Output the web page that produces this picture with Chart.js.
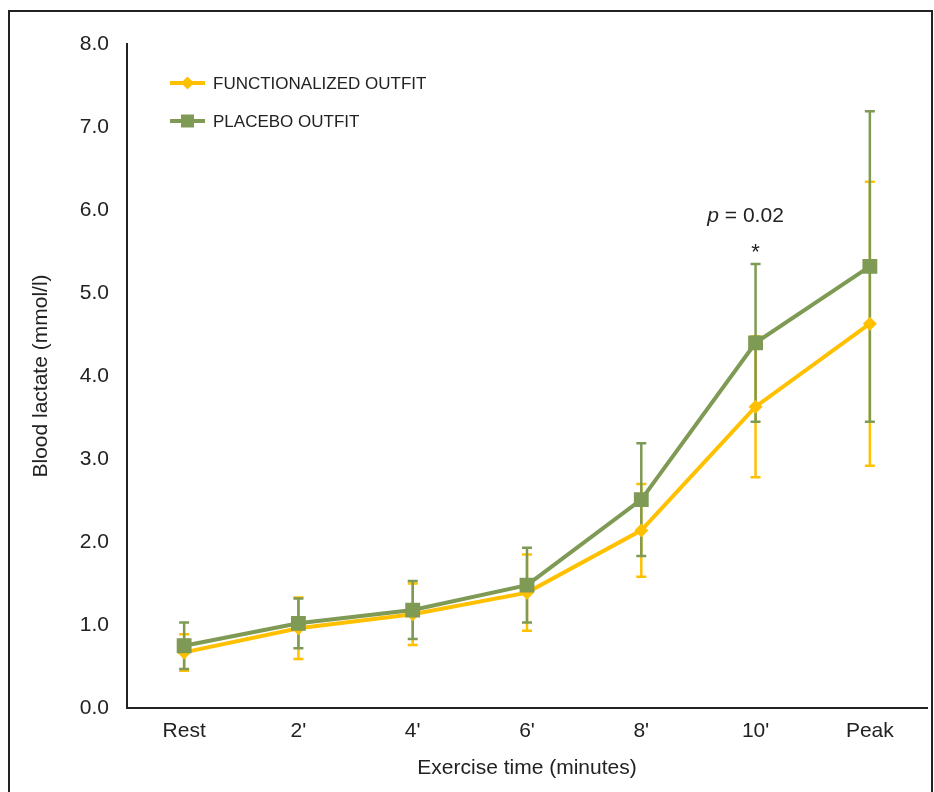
<!DOCTYPE html>
<html lang="en">
<head>
    <meta charset="UTF-8">
    <title>Blood lactate during exercise</title>
    <script src="https://cdn.jsdelivr.net/npm/chart.js@4.4.1/dist/chart.umd.min.js"></script>
    <style>
        html, body { margin: 0; padding: 0; background: #fff; overflow: hidden; }
        #wrap { position: relative; width: 934px; height: 792px; }
        #frame {
            position: absolute; left: 8px; top: 10px; width: 921px; height: 800px;
            border: 2px solid #222; border-bottom: none;
        }
        #box { position: absolute; left: 0; top: 0; width: 934px; height: 792px; }
    </style>
</head>
<body>
    <div id="wrap">
        <div id="frame"></div>
        <div id="box"><canvas id="lactateChart"></canvas></div>
    </div>

    <script>
        const categories = ['Rest', "2'", "4'", "6'", "8'", "10'", 'Peak'];
        const yTickLabels = ['0.0', '1.0', '2.0', '3.0', '4.0', '5.0', '6.0', '7.0', '8.0'];

        const functionalized = [0.67, 0.96, 1.13, 1.39, 2.14, 3.63, 4.63];
        const functionalizedErr = [0.22, 0.37, 0.37, 0.46, 0.56, 0.85, 1.71];
        const placebo = [0.75, 1.02, 1.18, 1.48, 2.51, 4.40, 5.32];
        const placeboErr = [0.28, 0.30, 0.35, 0.45, 0.68, 0.95, 1.87];

        const YELLOW = '#FFC000';
        const GREEN = '#7E9A54';
        const TEXT = '#222';
        const FONT = "'Liberation Sans', Arial, sans-serif";
        const PLOT_RIGHT = 927;

        // stretch the x axis to the right edge of the plot (layout keeps a gap there)
        const stretchX = {
            id: 'stretchX',
            afterLayout(chart) {
                const x = chart.scales.x;
                x.right = PLOT_RIGHT;
                x.width = x.right - x.left;
                chart.chartArea.right = PLOT_RIGHT;
                chart.chartArea.width = PLOT_RIGHT - chart.chartArea.left;
                x.configure();
            }
        };

        // error bars go under the lines
        const errorBars = {
            id: 'errorBars',
            beforeDatasetsDraw(chart) {
                const ctx = chart.ctx;
                const x = chart.scales.x, y = chart.scales.y;
                [[functionalized, functionalizedErr, YELLOW], [placebo, placeboErr, GREEN]].forEach(([vals, errs, col]) => {
                    ctx.save();
                    ctx.strokeStyle = col;
                    ctx.lineWidth = 2.5;
                    vals.forEach((v, i) => {
                        const px = x.getPixelForValue(i);
                        const top = y.getPixelForValue(v + errs[i]);
                        const bot = y.getPixelForValue(v - errs[i]);
                        ctx.beginPath();
                        ctx.moveTo(px, top); ctx.lineTo(px, bot);
                        ctx.moveTo(px - 5, top); ctx.lineTo(px + 5, top);
                        ctx.moveTo(px - 5, bot); ctx.lineTo(px + 5, bot);
                        ctx.stroke();
                    });
                    ctx.restore();
                });
            }
        };

        // legend inside plot + significance note
        const extras = {
            id: 'extras',
            afterDraw(chart) {
                const ctx = chart.ctx;
                const x = chart.scales.x, y = chart.scales.y;
                ctx.save();
                const items = [
                    ['FUNCTIONALIZED OUTFIT', YELLOW, 'diamond', 83],
                    ['PLACEBO OUTFIT', GREEN, 'square', 121]
                ];
                items.forEach(([label, col, shape, ly]) => {
                    ctx.strokeStyle = col;
                    ctx.fillStyle = col;
                    ctx.lineWidth = 4;
                    ctx.beginPath();
                    ctx.moveTo(170, ly); ctx.lineTo(205, ly);
                    ctx.stroke();
                    ctx.beginPath();
                    if (shape === 'diamond') {
                        ctx.moveTo(187.5, ly - 6.5); ctx.lineTo(194, ly);
                        ctx.lineTo(187.5, ly + 6.5); ctx.lineTo(181, ly);
                        ctx.closePath();
                    } else {
                        ctx.rect(181, ly - 6.5, 13, 13);
                    }
                    ctx.fill();
                    ctx.fillStyle = TEXT;
                    ctx.font = '17px ' + FONT;
                    ctx.textBaseline = 'middle';
                    ctx.textAlign = 'left';
                    ctx.fillText(label, 213, ly + 1);
                });

                const cx = x.getPixelForValue(5);
                ctx.fillStyle = TEXT;
                ctx.textBaseline = 'middle';
                ctx.font = 'italic 21px ' + FONT;
                const pW = ctx.measureText('p').width;
                ctx.font = '21px ' + FONT;
                const restW = ctx.measureText(' = 0.02').width;
                const start = cx - 10 - (pW + restW) / 2;
                const py = y.getPixelForValue(5.93);
                ctx.textAlign = 'left';
                ctx.font = 'italic 21px ' + FONT;
                ctx.fillText('p', start, py);
                ctx.font = '21px ' + FONT;
                ctx.fillText(' = 0.02', start + pW, py);
                ctx.textAlign = 'center';
                ctx.font = '22px ' + FONT;
                ctx.fillText('*', cx, y.getPixelForValue(5.48));
                ctx.restore();
            }
        };

        function initChart() {
            const ctx = document.getElementById('lactateChart').getContext('2d');
            new Chart(ctx, {
                type: 'line',
                data: {
                    labels: categories,
                    datasets: [
                        {
                            label: 'FUNCTIONALIZED OUTFIT',
                            data: functionalized,
                            borderColor: YELLOW,
                            backgroundColor: YELLOW,
                            borderWidth: 4,
                            pointStyle: 'rectRot',
                            pointRadius: 7,
                            pointBorderWidth: 0,
                            tension: 0,
                            order: 1
                        },
                        {
                            label: 'PLACEBO OUTFIT',
                            data: placebo,
                            borderColor: GREEN,
                            backgroundColor: GREEN,
                            borderWidth: 4,
                            pointStyle: 'rect',
                            pointRadius: 10.5,
                            pointBorderWidth: 0,
                            tension: 0,
                            order: 0
                        }
                    ]
                },
                options: {
                    responsive: true,
                    maintainAspectRatio: false,
                    animation: false,
                    layout: { padding: { top: 44, right: 7, left: 0, bottom: 0 } },
                    scales: {
                        x: {
                            offset: true,
                            grid: { display: false, drawTicks: false },
                            border: { display: true, color: TEXT, width: 2 },
                            ticks: { color: TEXT, padding: 11, font: { family: FONT, size: 21 } },
                            title: {
                                display: true,
                                text: 'Exercise time (minutes)',
                                color: TEXT,
                                font: { family: FONT, size: 21 },
                                padding: { top: 0, bottom: 11 }
                            },
                            afterFit(s) { s.height = 84; }
                        },
                        y: {
                            min: 0,
                            max: 8,
                            grid: { display: false, drawTicks: false },
                            border: { display: true, color: TEXT, width: 2 },
                            ticks: {
                                stepSize: 1,
                                color: TEXT,
                                padding: 18,
                                font: { family: FONT, size: 21 },
                                callback: (v) => yTickLabels[Math.round(v)]
                            },
                            title: {
                                display: true,
                                text: 'Blood lactate (mmol/l)',
                                color: TEXT,
                                font: { family: FONT, size: 21 },
                                padding: { top: 29, bottom: 0 }
                            },
                            afterFit(s) { s.width = 127; }
                        }
                    },
                    plugins: {
                        legend: { display: false },
                        tooltip: { enabled: false }
                    }
                },
                plugins: [stretchX, errorBars, extras]
            });
        }

        function checkChartAndInit() {
            if (typeof Chart === 'undefined') {
                setTimeout(checkChartAndInit, 100);
                return;
            }
            initChart();
        }

        document.addEventListener('DOMContentLoaded', checkChartAndInit);
    </script>
</body>
</html>
